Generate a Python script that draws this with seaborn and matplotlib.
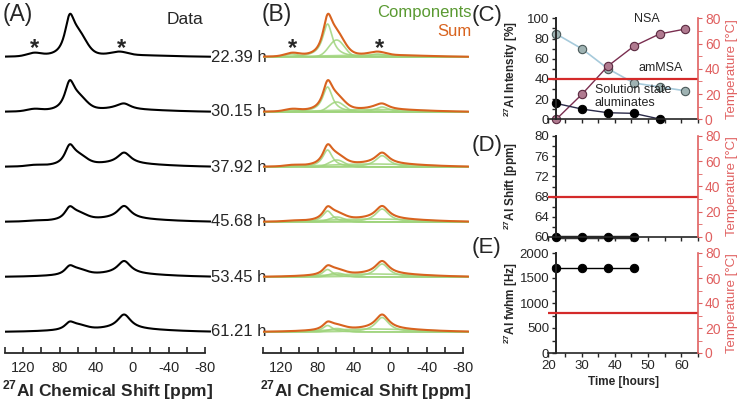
import numpy as np
import matplotlib
matplotlib.use('Agg')
import matplotlib.pyplot as plt
import seaborn as sns

sns.set_style('ticks')
plt.rcParams['font.family'] = ['Liberation Sans', 'DejaVu Sans']
plt.rcParams['mathtext.fontset'] = 'custom'
plt.rcParams['mathtext.rm'] = 'Liberation Sans'
plt.rcParams['mathtext.bf'] = 'Liberation Sans:bold'
plt.rcParams['axes.unicode_minus'] = False

# acquisition times of the spectra
times = [22.39, 30.15, 37.92, 45.68, 53.45, 61.21]
time_labels = ['22.39 h', '30.15 h', '37.92 h', '45.68 h', '53.45 h', '61.21 h']

# fitted spectral components (centre / fwhm in ppm, line shape)
comp_centre = [69, 59, 9, 20, 108, 14]
comp_fwhm = [13, 20, 18, 120, 18, 20]
comp_shape = ['L', 'G', 'L', 'G', 'G', 'G']
# component heights for each spectrum (a.u.)
h_nsa = [33, 25, 17, 11, 7.5, 6.5]
h_amorph = [17, 10, 7, 5, 4, 3.5]
h_octa = [0, 5, 11.3, 13, 13, 14.5]
h_broad = [2, 2.5, 3, 3, 3, 3]
h_ssb_hi = [3, 2, 1, 0.5, 0, 0]
h_ssb_lo = [3, 1, 0, 0, 0, 0]
comp_heights = [h_nsa, h_amorph, h_octa, h_broad, h_ssb_hi, h_ssb_lo]

# panel C: relative intensities [%]
nsa_int = [0, 24.9, 52.7, 72.3, 84.5, 89.4]
ammsa_int = [84.5, 69.7, 50.1, 36.0, 32.1, 28.2]
sol_times = [22.39, 30.15, 37.92, 45.68, 53.45]
sol_int = [15.7, 10.1, 6.5, 5.9, 0.3]
# panels D and E (solution state aluminates)
shift_times = [22.39, 30.15, 37.92, 45.68]
sol_shift = [60, 60, 60, 60]
sol_fwhm = [1710, 1710, 1710, 1710]
temperature = 32

W, H = 741, 405
fig = plt.figure(figsize=(7.41, 4.05), dpi=100)


def px_axes(x0, y0, w, h):
    return fig.add_axes([x0 / W, 1 - (y0 + h) / H, w / W, h / H])


def line(x, c, w, shape):
    if shape == 'L':
        return 1.0 / (1 + ((x - c) / (w / 2)) ** 2)
    return np.exp(-4 * np.log(2) * ((x - c) / w) ** 2)


ppm = np.linspace(140, -86, 700)
row_gap = 55

axA = px_axes(5, 0, 205.5, 353)
axB = px_axes(263, 0, 205.5, 353)
for ax in (axA, axB):
    ax.set_xlim(140, -86)
    ax.set_ylim(0, 353)
    ax.patch.set_alpha(0)
    for s in ['left', 'right', 'top']:
        ax.spines[s].set_visible(False)
    ax.spines['bottom'].set_bounds(140, -80)
    ax.spines['bottom'].set_linewidth(1.3)
    ax.set_yticks([])
    ax.set_xticks([120, 80, 40, 0, -40, -80])
    ax.set_xticks([140, 100, 60, 20, -20, -60], minor=True)
    ax.tick_params(axis='x', which='both', direction='in', length=4, width=1.2, labelsize=10.5, pad=6)
    ax.set_xlabel(r'$^{\mathbf{27}}$Al Chemical Shift [ppm]', fontsize=12.5, fontweight='bold', labelpad=2)

for i, t in enumerate(times):
    base = 21 + row_gap * (len(times) - 1 - i)
    comps = []
    for k in range(len(comp_centre)):
        comps.append(comp_heights[k][i] * line(ppm, comp_centre[k], comp_fwhm[k], comp_shape[k]))
    total = np.sum(comps, axis=0)
    axA.plot(ppm, base + total, color='black', lw=1.5)
    axA.text(-87, base, time_labels[i], fontsize=12, va='center', ha='left', clip_on=False)
    for k, c in enumerate(comps):
        if comp_heights[k][i] > 0:
            axB.plot(ppm, base + c, color='#9fd47c', lw=1.2, alpha=0.85)
    axB.plot(ppm, base + total, color='#d8631f', lw=1.5)

for ax in (axA, axB):
    ax.text(108, 304, '*', fontsize=17, fontweight='bold', ha='center', va='center')
    ax.text(12, 304, '*', fontsize=17, fontweight='bold', ha='center', va='center')

fig.text(3 / W, 1 - 14 / H, '(A)', fontsize=16.5, va='center')
fig.text(185 / W, 1 - 20 / H, 'Data', fontsize=12.5, va='center', ha='center')
fig.text(262 / W, 1 - 14 / H, '(B)', fontsize=16.5, va='center')
fig.text(472 / W, 1 - 12 / H, 'Components', fontsize=12, va='center', ha='right', color='#5a9a32')
fig.text(472 / W, 1 - 31 / H, 'Sum', fontsize=12, va='center', ha='right', color='#d8631f')
fig.text(472 / W, 1 - 15 / H, '(C)', fontsize=16, va='center')
fig.text(472 / W, 1 - 145 / H, '(D)', fontsize=16, va='center')
fig.text(472 / W, 1 - 248 / H, '(E)', fontsize=16, va='center')

red = '#d42a2a'
red_lab = '#e06060'


def time_panel(y0, h, ylim, major, minor, ylabel, show_x):
    ax = px_axes(548.3, y0, 149.7, h)
    ax.set_xlim(20, 65)
    ax.set_ylim(*ylim)
    ax.spines['left'].set_position(('data', 22.39))
    ax.spines['left'].set_linewidth(1.4)
    ax.spines['bottom'].set_linewidth(1.2)
    ax.spines['top'].set_visible(False)
    ax.spines['right'].set_visible(False)
    ax.set_yticks(major)
    ax.set_yticks(minor, minor=True)
    ax.set_xticks([20, 30, 40, 50, 60])
    ax.set_xticks([25, 35, 45, 55, 65], minor=True)
    ax.tick_params(which='both', length=3, width=1, labelsize=9.5, pad=2)
    if not show_x:
        ax.set_xticklabels([])
    ax.set_ylabel(ylabel, fontsize=8.5, fontweight='bold')
    ax.yaxis.set_label_coords(-0.19, 0.5)
    tw = ax.twinx()
    tw.set_ylim(0, 80)
    for s in ['left', 'top', 'bottom']:
        tw.spines[s].set_visible(False)
    tw.spines['right'].set_color(red_lab)
    tw.spines['right'].set_linewidth(1.2)
    tw.set_yticks([0, 20, 40, 60, 80])
    tw.set_yticks([10, 30, 50, 70], minor=True)
    tw.tick_params(which='both', colors=red_lab, length=3, labelsize=10, pad=2)
    tw.set_ylabel('Temperature [°C]', color=red_lab, fontsize=9.5)
    tw.yaxis.set_label_coords(1.185, 0.5)
    tw.axhline(temperature, color=red, lw=1.6)
    return ax


axC = time_panel(18.3, 101, (0, 100), np.arange(0, 101, 20), np.arange(10, 100, 20),
                 r'$^{\mathbf{27}}$Al Intensity [%]', False)
sns.lineplot(x=times, y=ammsa_int, ax=axC, color='#a6cadb', lw=1.2, marker='o', markersize=6,
             markerfacecolor='#9fb3b3', markeredgecolor='#4a5a5a', markeredgewidth=0.8, clip_on=False)
sns.lineplot(x=times, y=nsa_int, ax=axC, color='#7a2e50', lw=1.0, marker='o', markersize=6,
             markerfacecolor='#b07a90', markeredgecolor='#5a2a40', markeredgewidth=0.8, clip_on=False)
sns.lineplot(x=sol_times, y=sol_int, ax=axC, color='#2a2a48', lw=1.0, marker='o', markersize=6,
             markerfacecolor='black', markeredgecolor='black', clip_on=False)
axC.text(49.7, 99, 'NSA', fontsize=9, ha='center', va='center')
axC.text(53.9, 50.7, 'amMSA', fontsize=9, ha='center', va='center')
axC.text(45.5, 29, 'Solution state', fontsize=9, ha='center', va='center')
axC.text(43.1, 16, 'aluminates', fontsize=9, ha='center', va='center')

axD = time_panel(136, 101, (60, 80), np.arange(60, 81, 4), np.arange(62, 80, 4),
                 r'$^{\mathbf{27}}$Al Shift [ppm]', False)
sns.lineplot(x=shift_times, y=sol_shift, ax=axD, color='#333333', lw=2.5, marker='o', markersize=6,
             markerfacecolor='black', markeredgecolor='black', clip_on=False)

axE = time_panel(253, 100, (0, 2000), np.arange(0, 2001, 500), np.arange(250, 2000, 500),
                 r'$^{\mathbf{27}}$Al fwhm [Hz]', True)
sns.lineplot(x=shift_times, y=sol_fwhm, ax=axE, color='black', lw=1.0, marker='o', markersize=6,
             markerfacecolor='black', markeredgecolor='black', clip_on=False)
axE.set_xlabel('Time [hours]', fontsize=8.5, fontweight='bold', labelpad=3)

fig.savefig('out.png', dpi=100)
